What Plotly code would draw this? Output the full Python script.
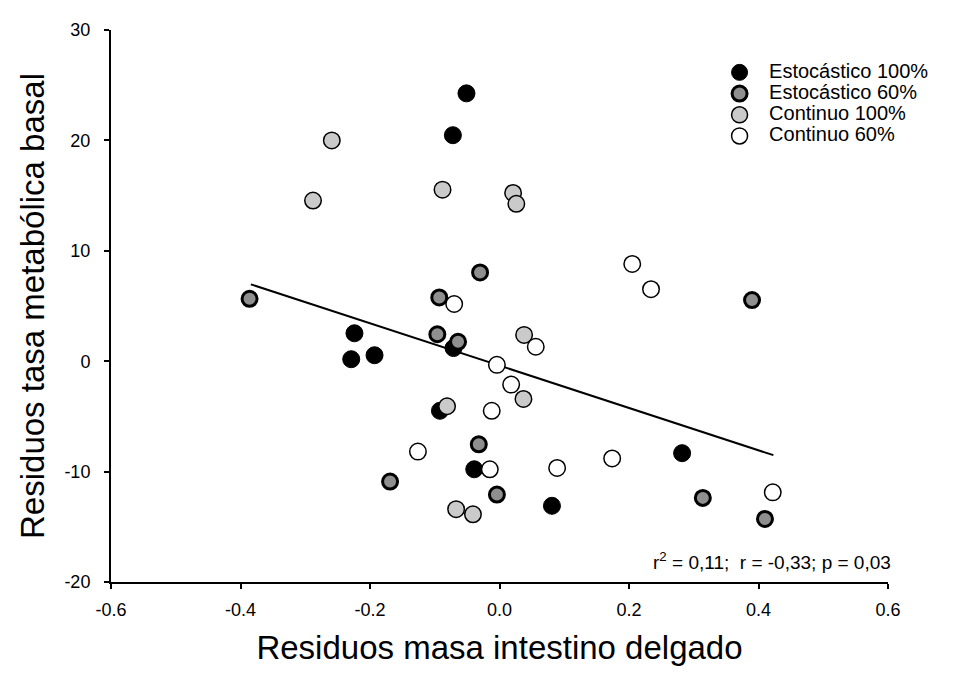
import plotly.graph_objects as go

# ---- data ----
est100_x = [-0.051, -0.072, -0.224, -0.229, -0.193, -0.071, -0.092, -0.039, 0.081, 0.282]
est100_y = [24.26, 20.47, 2.53, 0.18, 0.54, 1.19, -4.49, -9.79, -13.1, -8.33]

est60_x = [-0.386, -0.030, -0.093, -0.096, -0.064, -0.032, -0.169, -0.004, 0.390, 0.314, 0.410]
est60_y = [5.65, 8.04, 5.78, 2.44, 1.76, -7.53, -10.9, -12.08, 5.54, -12.38, -14.29]

con100_x = [-0.259, -0.288, -0.088, 0.021, 0.026, 0.038, 0.037, -0.081, -0.067, -0.041]
con100_y = [20.0, 14.55, 15.54, 15.24, 14.26, 2.38, -3.42, -4.08, -13.4, -13.87]

con60_x = [0.205, 0.234, -0.070, 0.056, -0.004, 0.018, -0.012, -0.126, -0.015, 0.089, 0.174, 0.422]
con60_y = [8.81, 6.52, 5.18, 1.31, -0.33, -2.12, -4.49, -8.19, -9.79, -9.67, -8.81, -11.88]

fit_x = [-0.384, 0.423]
fit_y = [6.96, -8.51]

x_ticks = [-0.6, -0.4, -0.2, 0.0, 0.2, 0.4, 0.6]
x_ticktext = ["-0.6", "-0.4", "-0.2", "0.0", "0.2", "0.4", "0.6"]
y_ticks = [-20, -10, 0, 10, 20, 30]
y_ticktext = ["-20", "-10", "0", "10", "20", "30"]

names = ["Estocástico 100%", "Estocástico 60%", "Continuo 100%", "Continuo 60%"]

FONT = "Liberation Sans, Arial, sans-serif"

def lname(s):
    return "<span style='font-size:20px'>" + s + "</span>"

fig = go.Figure()

fig.add_trace(go.Scatter(
    x=fit_x, y=fit_y, mode="lines", line=dict(color="black", width=2),
    showlegend=False, hoverinfo="skip"))

fig.add_trace(go.Scatter(
    x=est100_x, y=est100_y, mode="markers", name=lname(names[0]),
    marker=dict(size=17, color="black", line=dict(color="black", width=1))))
fig.add_trace(go.Scatter(
    x=est60_x, y=est60_y, mode="markers", name=lname(names[1]),
    marker=dict(size=15, color="#8f8f8f", line=dict(color="black", width=3))))
fig.add_trace(go.Scatter(
    x=con100_x, y=con100_y, mode="markers", name=lname(names[2]),
    marker=dict(size=16.5, color="#cacaca", line=dict(color="black", width=1.5))))
fig.add_trace(go.Scatter(
    x=con60_x, y=con60_y, mode="markers", name=lname(names[3]),
    marker=dict(size=16.5, color="white", line=dict(color="black", width=1.5))))

fig.add_annotation(
    x=1.006, y=0.038, xref="paper", yref="paper", xanchor="right", yanchor="middle",
    text="r<sup>2</sup> = 0,11;\u00a0 r = -0,33; p = 0,03", showarrow=False,
    font=dict(family=FONT, size=19, color="black"))

fig.update_layout(
    width=957, height=672,
    margin=dict(l=103, r=77, t=17, b=98),
    paper_bgcolor="white", plot_bgcolor="white",
    font=dict(family=FONT, color="black"),
    legend=dict(x=0.771, y=0.9515, xanchor="left", yanchor="top",
                font=dict(family=FONT, size=14, color="black"),
                bgcolor="rgba(0,0,0,0)", itemwidth=49, tracegroupgap=0),
    xaxis=dict(range=[-0.6, 0.6], tickvals=x_ticks, ticktext=x_ticktext,
               showgrid=False, zeroline=False, showline=True, linecolor="black",
               linewidth=2, ticks="outside", ticklen=5, tickwidth=1.5, tickcolor="black",
               tickfont=dict(family=FONT, size=18), ticklabelstandoff=5,
               title=dict(text="Residuos masa intestino delgado",
                          font=dict(family=FONT, size=33), standoff=17)),
    yaxis=dict(range=[-20, 30], tickvals=y_ticks, ticktext=y_ticktext,
               showgrid=False, zeroline=False, showline=True, linecolor="black",
               linewidth=2, ticks="outside", ticklen=5, tickwidth=1.5, tickcolor="black",
               tickfont=dict(family=FONT, size=18), ticklabelstandoff=10,
               title=dict(text="Residuos tasa metabólica basal",
                          font=dict(family=FONT, size=33), standoff=10)),
)

fig.write_html("out.html")
